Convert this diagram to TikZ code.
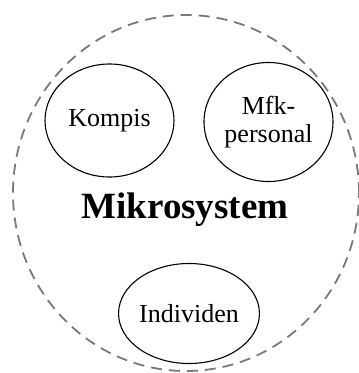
\documentclass[tikz,border=0pt]{standalone}
\usepackage{fontspec}
\setmainfont{Liberation Serif}
\usetikzlibrary{shapes.geometric}
\begin{document}
\begin{tikzpicture}[x=1pt,y=-1pt,
  member/.style={ellipse,draw=black,line width=1.1pt,inner sep=0pt,
    align=center,font=\fontsize{26}{28}\selectfont},
  boundary/.style={draw=gray!95!black,line width=1.8pt,dash pattern=on 11pt off 7pt}]
\useasboundingbox (0,0) rectangle (359,373);
% dashed system boundary
\node[boundary,ellipse,minimum width=346pt,minimum height=356pt,inner sep=0pt] (sys) at (186,193) {};
% members of the microsystem
\node[member,minimum width=129pt,minimum height=113pt] (kompis) at (109.5,120.5) {Kompis};
\node[member,minimum width=129pt,minimum height=119pt] (mfk) at (268.5,122) {Mfk-\\personal};
\node[member,minimum width=128pt,minimum height=100pt] (ind) at (189,313.5) {Individen};
% system label
\node[font=\fontsize{37}{37}\selectfont\bfseries,anchor=base] (label) at (185,218) {Mikrosystem};
\end{tikzpicture}
\end{document}
